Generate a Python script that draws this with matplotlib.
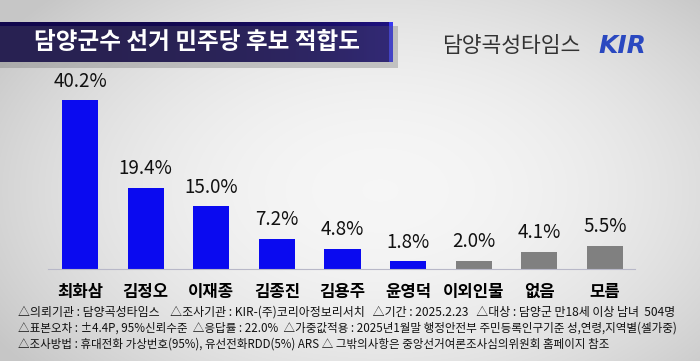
import numpy as np
import matplotlib.pyplot as plt

plt.rcParams['font.family'] = ['Noto Sans CJK KR', 'DejaVu Sans']

candidates = ['최화삼', '김정오', '이재종', '김종진', '김용주', '윤영덕', '이외인물', '없음', '모름']
values = [40.2, 19.4, 15.0, 7.2, 4.8, 1.8, 2.0, 4.1, 5.5]
bar_colors = ['#0a0af0'] * 6 + ['#808080'] * 3

title = '담양군수 선거 민주당 후보 적합도'
notes = [
    '△의뢰기관 : 담양곡성타임스    △조사기관 : KIR-(주)코리아정보리서치   △기간 : 2025.2.23   △대상 : 담양군 만18세 이상 남녀  504명',
    '△표본오차 : ±4.4P, 95%신뢰수준  △응답률 : 22.0%  △가중값적용 : 2025년1월말 행정안전부 주민등록인구기준 성,연령,지역별(셀가중)',
    '△조사방법 : 휴대전화 가상번호(95%), 유선전화RDD(5%) ARS △ 그밖의사항은 중앙선거여론조사심의위원회 홈페이지 참조',
]
note_left = 18
note_right = [676, 678, 607]  # pixel x where each line ends in the reference

W, H = 700, 361
fig = plt.figure(figsize=(7, 3.61), dpi=100)

# background gradient
bg = fig.add_axes([0, 0, 1, 1])
yy, xx = np.mgrid[0:H, 0:W]
r = np.sqrt(((xx - 380) / 420.0) ** 2 + ((yy - 190) / 260.0) ** 2)
shade = np.clip(0.965 - 0.16 * r ** 2, 0.78, 0.97)
bg.imshow(np.dstack([shade] * 3), extent=(0, W, H, 0), aspect='auto')

# title banner with shadow
bg.add_patch(plt.Rectangle((0, 26), 398, 42, color='#606060', alpha=0.3, lw=0))
grad = np.linspace(0, 1, 400)
c0 = np.array([0.07, 0.03, 0.30])
c1 = np.array([0.12, 0.07, 0.50])
row = c0 + (c1 - c0) * grad[:, None] ** 3
row[-4:] = [0.22, 0.22, 0.95]
bg.imshow(row[None, :, :], extent=(0, 393, 62, 22), aspect='auto')
bg.text(197, 42, title, color='white', fontsize=17, fontweight='bold',
        ha='center', va='center')

# logos
bg.text(511, 46, '담양곡성타임스', color='#333333', fontsize=15.5, ha='center', va='center')
bg.text(622, 46, 'KIR', color='#2a48c0', fontsize=18, fontweight='bold', fontstyle='italic',
        ha='center', va='center', family='DejaVu Sans')

bg.set_xlim(0, W)
bg.set_ylim(H, 0)
bg.axis('off')

# footnotes, each line fitted to the reference width
renderer = fig.canvas.get_renderer()
for i, line in enumerate(notes):
    t = bg.text(note_left, 312 + i * 16, line, color='#111111', fontsize=9.0,
                ha='left', va='center')
    w = t.get_window_extent(renderer).width
    t.set_fontsize(9.0 * (note_right[i] - note_left) / w)

# bars
ax = fig.add_axes([48 / W, (H - 269) / H, (635 - 48) / W, 189 / H])
ax.patch.set_alpha(0)
x = np.arange(len(values))
ax.bar(x, values, width=0.55, color=bar_colors)
for xi, v in zip(x, values):
    ax.text(xi, v + 2.0, f'{v:.1f}%', ha='center', va='bottom', fontsize=13.5,
            color='#111111')
ax.set_xlim(-0.488, 8.457)
ax.set_ylim(0, 45)
ax.set_xticks(x)
ax.set_xticklabels(candidates, fontsize=12, fontweight='bold')
ax.tick_params(axis='x', length=0, pad=10)
ax.set_yticks([])
for s in ['top', 'right', 'left']:
    ax.spines[s].set_visible(False)
ax.spines['bottom'].set_color('#b8b8c8')
ax.spines['bottom'].set_linewidth(0.8)

fig.savefig('out.png', dpi=100)
